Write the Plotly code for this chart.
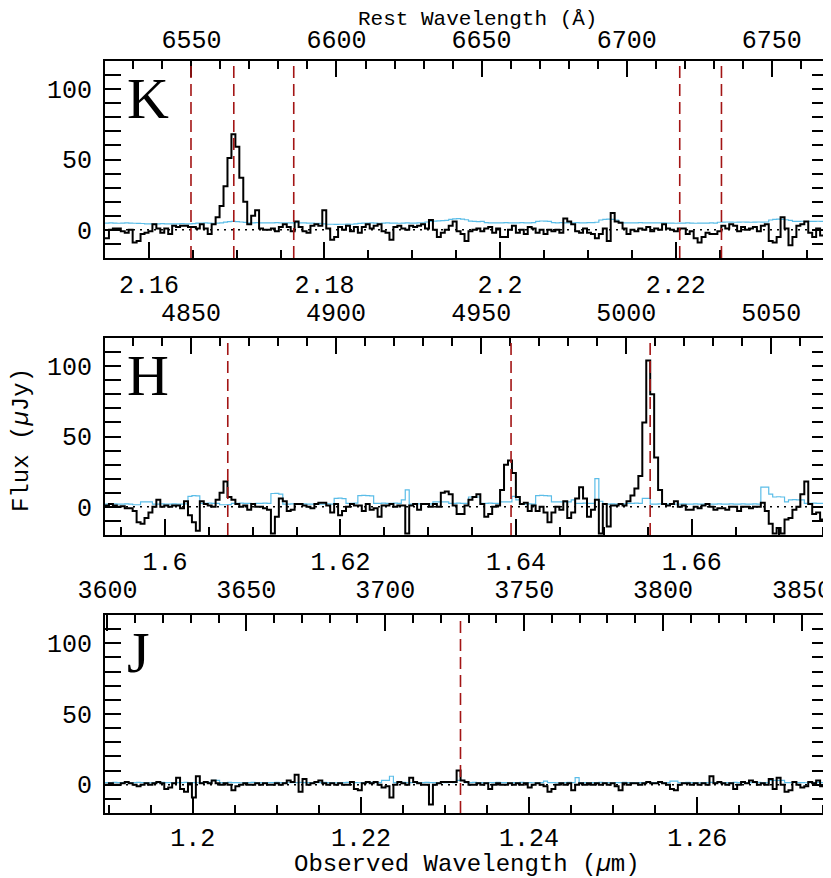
import numpy as np
import plotly.graph_objects as go

# redshift used for the rest-frame (top) axes
ZP1 = 3.3051

# ---- K band (observed micron grid: start, bin width) ----
K_START, K_DW = 2.155, 0.00045
K_FLUX = [-6, 0, 1, 1, -1, -2, 0, -9, -8, -3, -2, -1, 4, 1, -2, 1, -3, 3, 2, 3,
          3, 2, 2, 1, 4, 1, -3, 4, 9, 17, 31, 51, 68, 59, 37, 20, 4, 10, 14, 1,
          0, 0, 1, -1, 2, 4, 2, -1, 6, 2, -1, -2, 3, 4, 3, 14, 1, -7, -5, 2,
          0, 3, -1, 2, -2, 2, 4, 1, 3, 4, -1, -2, -7, 2, 3, 1, 0, 3, 2, 3,
          4, 1, 7, 0, -5, -2, 0, 3, 6, -1, -3, -8, -1, 0, 1, -1, 1, 2, -2, 1,
          -5, -5, 0, 3, -2, 0, -3, 2, 1, -2, 0, -3, 0, -1, 0, -2, 8, 6, 4, -1,
          -2, 1, -2, -3, -6, -3, 1, -8, 12, 6, 5, 1, -3, 0, -1, 1, 0, 2, -1, 1,
          0, 4, 1, 0, -1, 1, 1, -3, -1, -6, -9, -5, -2, -3, -3, -1, 3, 1, 4, 3,
          -1, 2, 0, 1, 2, -1, 3, 4, -8, -9, -5, 9, 1, -11, -5, 3, 4, 6, -2, -5,
          1, -4, 3]
K_ERR = [4.8, 4.9, 4.8, 4.7, 4.8, 4.9, 4.8, 4.7, 4.6, 4.5, 4.3, 4.3, 4.2, 4.3, 4.4, 4.3, 4.3, 4.2, 4.3, 4.4,
         4.3, 4.3, 4.4, 4.8, 4.8, 4.9, 4.8, 4.7, 4.8, 5.0, 5.5, 5.8, 6.0, 5.9, 5.6, 5.3, 5.0, 5.0, 5.1, 5.0,
         4.9, 5.0, 5.0, 5.1, 5.0, 4.9, 5.0, 5.0, 5.1, 5.0, 4.9, 4.8, 4.8, 4.7, 4.6, 4.2, 4.0, 4.0, 3.9, 4.0,
         4.0, 4.1, 4.0, 4.2, 4.6, 4.8, 4.8, 4.9, 4.8, 4.7, 4.8, 4.9, 4.8, 4.8, 4.7, 4.8, 4.9, 4.8, 4.8, 4.9,
         5.0, 5.6, 6.0, 6.2, 6.4, 6.5, 6.8, 7.5, 7.8, 8.0, 7.6, 7.2, 6.2, 6.0, 5.9, 6.0, 5.2, 5.0, 4.9, 5.0,
         5.0, 5.1, 5.0, 4.9, 5.0, 5.1, 5.0, 5.0, 5.2, 6.0, 6.3, 6.2, 6.0, 5.2, 5.0, 5.1, 5.0, 4.9, 5.0, 5.1,
         5.0, 5.0, 5.1, 5.2, 5.4, 7.0, 7.5, 7.6, 7.4, 7.0, 5.4, 5.0, 5.0, 4.9, 5.0, 5.1, 5.0, 4.9, 5.0, 5.0,
         4.9, 5.0, 4.8, 4.8, 4.7, 4.8, 4.8, 4.9, 4.8, 4.7, 4.8, 4.8, 4.8, 4.9, 4.8, 5.4, 5.5, 5.6, 5.5, 5.4,
         5.5, 5.6, 5.5, 5.4, 5.5, 5.6, 5.5, 5.6, 7.0, 7.5, 7.6, 7.5, 7.2, 6.8, 6.0, 6.0, 6.1, 5.9, 6.0, 6.0,
         6.1, 6.0, 6.0]
K_LINES = [6549.86, 6564.61, 6585.27, 6718.29, 6732.67]
K_BOT = [2.16, 2.18, 2.2, 2.22]
K_BOT_TXT = ["2.16", "2.18", "2.2", "2.22"]
K_TOP = [6550, 6600, 6650, 6700, 6750]

# ---- H band ----
H_START, H_DW = 1.59318, 0.00045
H_FLUX = [1, 2, 1, 0, 0.5, -1, -1, -3, -11, -12, -8, -4, 0, 5, 0, 1, 0, 1, 1, -1,
          4, -6, -11, -17, 4, 2, 1, 0, 5, 10, 18, 7, 5, 2, 0, 1, -2, 2, 0, 0,
          -1, -2, -19, -7, 6, 4, -3, -2, 2, 2, 1, 0, -1, 2, 3, 3, 1, -4, 2, -6,
          -3, 0, 2, 1, 1, -3, 2, -2, -1, -7, 1, 1, 2, 0, 1, 1, -19, 1, 2, -2,
          2, 2, 0, 2, 0, 10, 11, 9, 1, -5, -5, 1, 5, 7, 9, 2, -7, -5, 0, 1,
          12, 30, 33, 24, 7, 2, 3, -3, 1, -3, 0, -4, -11, -4, 0, -2, 4, -8, -4, 6,
          14, 6, -7, -2, 5, -19, 2, -14, 1, 1, 2, 1, 4, 8, 13, 22, 60, 104, 80, 35,
          12, 2, 1, 2, 4, 0, 1, -2, -2, 0, -1, 1, 2, 0, -2, -1, -1, -2, 0, 0,
          -3, 0, 0, -1, 0, 0, 3, -3, -12, -19, -15, -19, -9, -8, -2, 0, 9, 18, 2, -5,
          -4, -9, -9]
H_ERR = [2.0, 2.0, 2.1, 2.0, 2.0, 2.1, 2.0, 1.5, 1.5, 3.5, 3.6, 3.5, 2.0, 2.0, 2.1, 2.0, 2.0, 2.1, 2.0, 2.0,
         2.1, 7.5, 8.0, 7.8, 2.5, 2.5, 2.6, 2.5, 2.5, 1.5, 1.5, 1.6, 2.5, 2.5, 2.6, 2.5, 2.5, 2.4, 2.5, 2.5,
         2.6, 2.5, 9.5, 9.6, 9.0, 2.0, 2.0, 2.1, 2.0, 2.0, 2.1, 2.0, 2.0, 2.1, 2.0, 2.0, 2.1, 2.0, 6.0, 6.2,
         5.8, 2.5, 2.5, 2.6, 8.0, 8.2, 8.0, 7.8, 2.5, 2.5, 2.6, 2.5, 2.5, 2.6, 2.5, 5.0, 12.0, 2.0, 2.0, 2.1,
         2.0, 2.0, 2.1, 3.5, 3.5, 3.6, 3.5, 2.5, 2.5, 2.6, 2.5, 2.5, 7.0, 7.2, 7.0, 2.5, 2.5, 2.6, 2.5, 2.5,
         3.5, 3.5, 3.6, 7.5, 5.0, 2.0, 2.0, 2.1, 2.0, 8.0, 8.2, 8.0, 7.8, 3.5, 3.5, 3.6, 3.5, 3.5, 5.0, 2.5,
         2.5, 2.6, 2.5, 2.5, 20.0, 4.0, 2.0, 2.0, 2.1, 2.0, 2.0, 2.1, 2.5, 2.5, 2.6, 2.5, 6.0, 6.0, 2.0, 2.0,
         2.1, 2.0, 2.0, 2.1, 2.0, 2.0, 2.1, 2.0, 2.0, 2.1, 2.0, 2.0, 2.1, 2.0, 2.0, 2.1, 2.0, 2.0, 2.1, 2.0,
         2.0, 2.1, 2.0, 2.0, 2.1, 2.0, 14.0, 14.0, 9.0, 7.0, 7.2, 7.0, 3.5, 5.0, 5.1, 5.0, 5.0, 2.5, 2.5, 2.6,
         2.5, 2.5, 2.6]
H_LINES = [4862.68, 4960.30, 5008.24]
H_BOT = [1.6, 1.62, 1.64, 1.66]
H_BOT_TXT = ["1.6", "1.62", "1.64", "1.66"]
H_TOP = [4850, 4900, 4950, 5000, 5050]

# ---- J band ----
J_START, J_DW = 1.18955, 0.00047
J_FLUX = [0, 1, 0, 0, 1, 2, 1, 0, -1, 0, 1, 0, 1, 2, 1, -3, -2, 1, 5, -3,
          -5, 1, -9, 6, 1, 2, 1, 3, 1, 0, 1, 0, -4, -1, 0, 1, 0, 0, 1, 0,
          1, 0, 0, 1, 0, 1, 3, 2, 7, -5, 4, 0, 1, 2, 3, 1, 0, 1, 0, 1,
          0, 0, 2, -3, -4, 1, 2, 1, 2, 0, -2, -1, -9, 0, 2, 1, 0, 5, 2, 1,
          0, 0, -14, 0, 1, 2, 2, 2, 2, 10, 3, 2, 0, 0, 1, 0, 1, -3, 0, 1,
          0, 0, 1, 0, 1, 0, 1, -2, 0, 1, 0, -1, -5, -3, 0, 1, 0, 1, -4, 0,
          1, 0, 1, 0, 1, 0, 1, 0, 1, -1, -4, 1, 0, 1, 1, 0, 1, 2, 1, 1,
          2, 1, 0, -3, -4, 0, 1, 1, 0, 1, 0, 1, 0, 6, 1, 2, 1, 0, 1, -3,
          0, 2, 1, 3, 2, 0, 1, 0, 4, -3, 5, 0, -5, -4, 2, 0, -2, -1, 2, 1,
          3, -1, 0]
J_ERR = [1.5, 1.5, 1.6, 1.5, 1.5, 1.4, 1.5, 1.5, 1.6, 1.5, 1.5, 1.4, 1.5, 1.5, 1.6, 1.5, 1.5, 1.4, 1.5, 1.5,
         1.6, 1.5, 1.5, 1.4, 1.5, 1.5, 1.6, 3.0, 3.0, 1.5, 1.5, 1.6, 1.5, 1.5, 1.4, 1.5, 1.5, 1.6, 1.5, 1.5,
         1.4, 1.5, 1.5, 1.6, 1.5, 1.5, 1.4, 1.5, 1.5, 1.6, 1.5, 1.5, 1.4, 1.5, 1.5, 1.6, 1.5, 1.5, 1.4, 1.5,
         1.5, 1.6, 1.5, 1.5, 1.4, 1.5, 1.5, 1.6, 1.5, 1.5, 3.0, 3.0, 6.0, 1.5, 1.5, 1.6, 1.5, 1.5, 1.4, 1.5,
         1.5, 1.6, 1.5, 1.5, 1.4, 1.5, 1.5, 1.6, 1.5, 3.0, 3.0, 1.5, 1.5, 1.6, 1.5, 1.5, 1.4, 1.5, 1.5, 1.6,
         1.5, 1.5, 1.4, 1.5, 1.5, 1.6, 1.5, 1.5, 1.4, 1.5, 1.5, 2.5, 1.5, 1.5, 1.4, 1.5, 1.5, 1.6, 1.5, 5.0,
         1.5, 1.5, 1.4, 1.5, 1.5, 1.6, 1.5, 1.5, 1.4, 1.5, 1.5, 1.6, 1.5, 1.5, 1.4, 1.5, 1.5, 1.6, 1.5, 1.5,
         1.4, 1.5, 1.5, 2.5, 2.5, 1.5, 1.5, 1.6, 1.5, 1.5, 1.4, 1.5, 1.5, 1.6, 1.5, 1.5, 1.4, 1.5, 1.5, 1.6,
         1.5, 1.5, 1.4, 1.5, 1.5, 1.6, 1.5, 1.5, 3.0, 3.0, 3.0, 3.0, 1.5, 1.5, 1.6, 1.5, 1.5, 1.4, 1.5, 1.5,
         1.6, 1.5, 1.5]
J_LINES = [3727.09]
J_BOT = [1.2, 1.22, 1.24, 1.26]
J_BOT_TXT = ["1.2", "1.22", "1.24", "1.26"]
J_TOP = [3600, 3650, 3700, 3750, 3800, 3850]

Y_TICKS = [0, 50, 100]

FONT = "Liberation Mono"
# the page body adds an 8px margin, so the figure is drawn 8px in from the corner
OFF = 8
W, H = 831 - OFF, 878 - OFF
X_DOM = [(105 - OFF) / W, (828 - OFF) / W]


def yfrac(py):
    return 1 - (py - OFF) / H


panels = [
    # name, start, dw, flux, err, lines, bottom ticks, bottom text, top ticks, frame top/bottom px
    ("K", K_START, K_DW, K_FLUX, K_ERR, K_LINES, K_BOT, K_BOT_TXT, K_TOP, 61, 258),
    ("H", H_START, H_DW, H_FLUX, H_ERR, H_LINES, H_BOT, H_BOT_TXT, H_TOP, 338, 535),
    ("J", J_START, J_DW, J_FLUX, J_ERR, J_LINES, J_BOT, J_BOT_TXT, J_TOP, 615, 813),
]

fig = go.Figure()
layout = {}
shapes = []
annotations = []

tickfont = dict(family=FONT, size=25, color="black")

for k, (name, start, dw, flux, err, lines, bot, bot_txt, top, ptop, pbot) in enumerate(panels):
    xa = "x" if k == 0 else f"x{k + 1}"
    ya = "y" if k == 0 else f"y{k + 1}"
    xt = f"x{k + 4}"
    n = len(flux)
    edges = start + np.arange(n + 1) * dw
    end = edges[-1]

    fig.add_trace(go.Scatter(x=edges, y=list(err) + [err[-1]], mode="lines", line_shape="hv",
                             line=dict(color="#5BBDE8", width=1.2), xaxis=xa, yaxis=ya,
                             hoverinfo="skip"))
    fig.add_trace(go.Scatter(x=edges, y=list(flux) + [flux[-1]], mode="lines", line_shape="hv",
                             line=dict(color="black", width=2), xaxis=xa, yaxis=ya,
                             hoverinfo="skip"))
    # placeholder so the rest-frame axis is drawn
    fig.add_trace(go.Scatter(x=[], y=[], xaxis=xt, yaxis=ya, showlegend=False))

    ydom = [yfrac(pbot), yfrac(ptop)]
    layout["xaxis" if k == 0 else f"xaxis{k + 1}"] = dict(
        domain=X_DOM, anchor=ya, range=[start, end], tickmode="array",
        tickvals=bot, ticktext=bot_txt, ticks="inside", ticklen=16, tickwidth=1.5,
        tickcolor="black", showline=True, linecolor="black", linewidth=2, mirror=True,
        showgrid=False, zeroline=False, tickfont=tickfont,
        ticklabelstandoff=1 if k == 2 else 3,
        automargin=False, ticklabeloverflow="allow",
        minor=dict(tickmode="linear", tick0=bot[0], dtick=0.005, ticks="inside",
                   ticklen=8, tickwidth=1.5, tickcolor="black", showgrid=False),
    )
    layout[f"xaxis{k + 4}"] = dict(
        overlaying=xa, anchor=ya, side="top",
        range=[start * 1e4 / ZP1, end * 1e4 / ZP1], tickmode="array", tickvals=top,
        ticks="inside", ticklen=16, tickwidth=1.5, tickcolor="black", showline=False,
        showgrid=False, zeroline=False, tickfont=tickfont,
        ticklabelstandoff=7 if k == 0 else 11,
        automargin=False, ticklabeloverflow="allow",
        minor=dict(tickmode="linear", tick0=top[0], dtick=10, ticks="inside",
                   ticklen=8, tickwidth=1.5, tickcolor="black", showgrid=False),
    )
    layout["yaxis" if k == 0 else f"yaxis{k + 1}"] = dict(
        domain=ydom, anchor=xa, range=[-20, 120], tickmode="array", tickvals=Y_TICKS,
        ticks="inside", ticklen=16, tickwidth=1.5, tickcolor="black", showline=True,
        linecolor="black", linewidth=2, mirror="allticks", showgrid=False, zeroline=False,
        tickfont=tickfont, ticklabelstandoff=6, automargin=False,
        minor=dict(tickmode="linear", tick0=0, dtick=10, ticks="inside", ticklen=8,
                   tickwidth=1.5, tickcolor="black", showgrid=False),
    )

    # dotted zero level
    shapes.append(dict(type="line", xref=f"{xa} domain", yref=ya, x0=0, x1=1, y0=0, y1=0,
                       line=dict(color="black", width=1.5, dash="2px,5px"), layer="below"))
    # emission lines at the redshift
    for lam in lines:
        obs = lam * ZP1 / 1e4
        shapes.append(dict(type="line", xref=xa, yref=f"{ya} domain", x0=obs, x1=obs,
                           y0=0, y1=1, line=dict(color="#A31515", width=1.6, dash="12px,6px"),
                           layer="above"))

    annotations.append(dict(text=name, xref=f"{xa} domain", yref=f"{ya} domain",
                            x=0.028, y=0.81, xanchor="left", yanchor="middle",
                            showarrow=False,
                            font=dict(family="Liberation Serif", size=58, color="black")))

annotations += [
    dict(text="Rest Wavelength (Å)", xref="paper", yref="paper", x=(477 - OFF) / W,
         y=1 + 2 / H, xanchor="center", yanchor="top", showarrow=False,
         font=dict(family=FONT, size=21, color="black")),
    dict(text="Observed Wavelength (<i>µ</i>m)", xref="paper", yref="paper",
         x=(467 - OFF) / W, y=yfrac(864), xanchor="center", yanchor="middle",
         showarrow=False, font=dict(family=FONT, size=24, color="black")),
    dict(text="Flux (<i>µ</i>Jy)", xref="paper", yref="paper", x=(21 - OFF) / W,
         y=yfrac(440), xanchor="center", yanchor="middle", textangle=-90, showarrow=False,
         font=dict(family=FONT, size=24, color="black")),
]

fig.update_layout(
    width=W, height=H,
    margin=dict(l=0, r=0, t=0, b=0),
    paper_bgcolor="white", plot_bgcolor="white",
    showlegend=False, hovermode=False,
    shapes=shapes, annotations=annotations,
    **layout,
)

fig.write_html("out.html")
